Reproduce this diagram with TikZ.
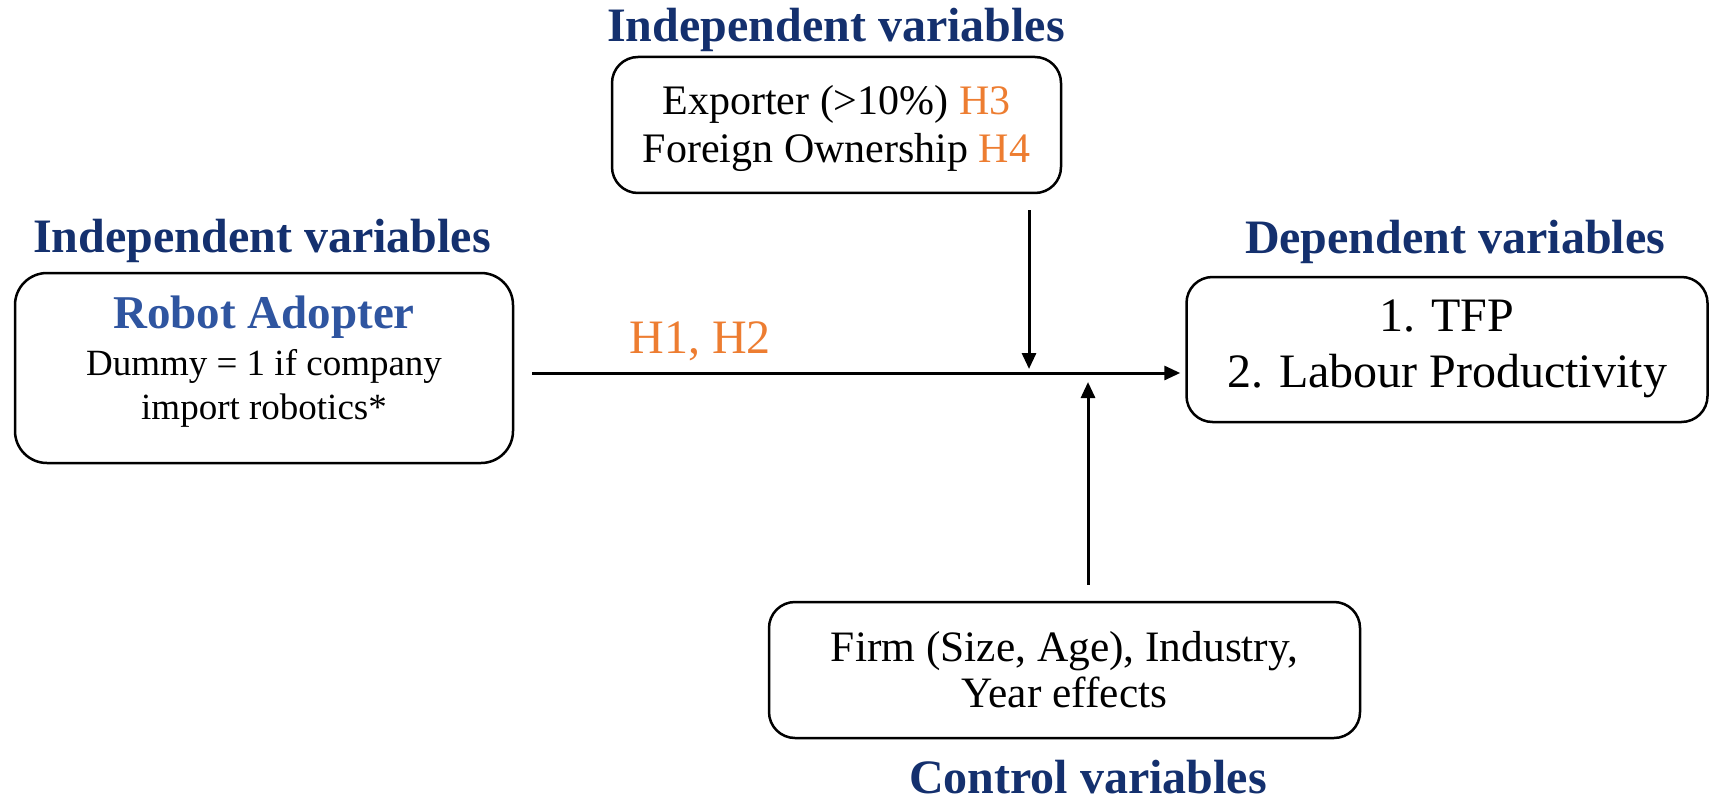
\documentclass[tikz,border=0pt]{standalone}
\usepackage{fontspec}
\setmainfont{Liberation Serif}
\usetikzlibrary{arrows.meta}
\definecolor{navy}{RGB}{20,48,110}
\definecolor{rblue}{RGB}{47,85,160}
\definecolor{horange}{RGB}{237,125,49}
\begin{document}
\begin{tikzpicture}[x=0.5pt,y=-0.5pt,
  box/.style={draw, line width=1.25pt, rounded corners=13pt, inner sep=0pt},
  txt/.style={anchor=base, inner sep=0pt},
  ttl/.style={txt, font=\fontsize{24}{28}\selectfont\bfseries, text=navy},
  arr/.style={line width=1.5pt, -{Triangle[length=8pt,width=7pt]}}]
\useasboundingbox (0,0) rectangle (1711,802);

% titles
\node[ttl] (ttop) at (836,42) {Independent variables};
\node[ttl] (tleft) at (262,252) {Independent variables};
\node[ttl] (tright) at (1455,253) {Dependent variables};
\node[ttl] (tbot) at (1088,793) {Control variables};

% boxes
\node[box, minimum width=224.5pt, minimum height=68pt] (tbox) at (836.5,125) {};
\node[box, rounded corners=16pt, minimum width=249pt, minimum height=95pt] (lbox) at (264,368) {};
\node[box, minimum width=260.5pt, minimum height=72.5pt] (rbox) at (1447,349.5) {};
\node[box, minimum width=295.5pt, minimum height=68pt] (bbox) at (1064.5,670) {};

% box texts
\node[txt, font=\fontsize{21}{24}\selectfont] (ex) at (tbox.center |- 0,115) {Exporter (>10\%) \textcolor{horange}{H3}};
\node[txt, font=\fontsize{21}{24}\selectfont] (fo) at (tbox.center |- 0,163) {Foreign Ownership \textcolor{horange}{H4}};
\node[txt, font=\fontsize{23.5}{26}\selectfont\bfseries, text=rblue] (ra) at (lbox.center |- 0,328) {Robot Adopter};
\node[txt, font=\fontsize{18.5}{22}\selectfont] (du) at (lbox.center |- 0,375) {Dummy = 1 if company};
\node[txt, font=\fontsize{18.5}{22}\selectfont] (im) at (lbox.center |- 0,419) {import robotics*};
\node[txt, font=\fontsize{24}{28}\selectfont] (tfp) at (rbox.center |- 0,331) {1. TFP};
\node[txt, font=\fontsize{24}{28}\selectfont] (lp) at (rbox.center |- 0,387) {2. Labour Productivity};
\node[txt, font=\fontsize{21.7}{24}\selectfont] (fi) at (bbox.center |- 0,661) {Firm (Size, Age), Industry,};
\node[txt, font=\fontsize{21.7}{24}\selectfont] (ye) at (bbox.center |- 0,707) {Year effects};

% junction points on the main arrow
\coordinate (j1) at (1029,373);
\coordinate (j2) at (1088,373);

% connectors
\draw[arr, shorten <=9pt, shorten >=2.5pt] (lbox.east |- j1) -- (rbox.west |- j1);
\draw[arr, shorten <=8pt, shorten >=2pt] (tbox.south -| j1) -- (j1);
\draw[arr, shorten <=8pt, shorten >=4.5pt] (bbox.north -| j2) -- (j2);

\node[txt, font=\fontsize{24}{28}\selectfont, text=horange] (h12) at (700,353) {H1, H2};
\end{tikzpicture}
\end{document}
